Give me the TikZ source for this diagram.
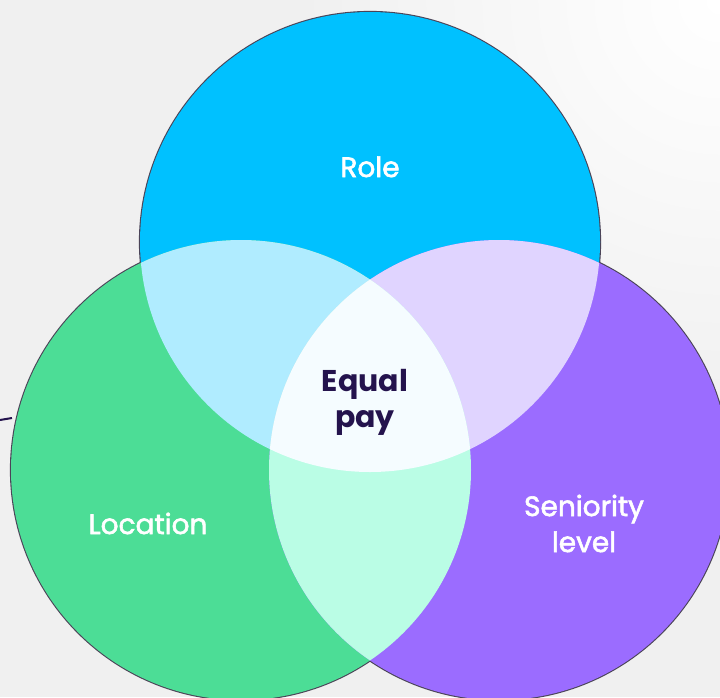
\documentclass[tikz,border=0pt]{standalone}
\usepackage{fontspec}
\setmainfont{Poppins}
\newfontfamily\medfont[FakeBold=2]{Poppins}
\begin{document}
\begin{tikzpicture}[x=1pt,y=-1pt]
\definecolor{bg}{HTML}{F0F0F0}
\definecolor{roleblue}{HTML}{00C1FF}
\definecolor{locgreen}{HTML}{4CDD96}
\definecolor{senpurple}{HTML}{9B6CFF}
\definecolor{bluegreen}{HTML}{B0ECFF}
\definecolor{bluepurple}{HTML}{E0D4FF}
\definecolor{greenpurple}{HTML}{BAFDE5}
\definecolor{centre}{HTML}{F5FCFF}
\definecolor{outline}{HTML}{4B4458}
\definecolor{navy}{HTML}{24134D}
\tikzset{
  rim/.style={draw=outline, line width=2.2pt},
  lbl/.style={text=white, font=\medfont\fontsize{28}{36}\selectfont, align=center, inner sep=0pt},
  mainlbl/.style={text=navy, font=\fontsize{30}{36}\selectfont\bfseries, align=center, inner sep=0pt}
}
\useasboundingbox (0,0) rectangle (720,697);
\fill[bg] (0,0) rectangle (720,697);
\shade[inner color=white, outer color=bg] (720,0) circle (420pt);
\coordinate (cT) at (370,242);
\coordinate (cL) at (241,470);
\coordinate (cR) at (499,470);
% outer outline
\draw[rim] (cT) circle (230pt);
\draw[rim] (cL) circle (230pt);
\draw[rim] (cR) circle (230pt);
% base fills
\fill[roleblue] (cT) circle (230pt);
\fill[locgreen] (cL) circle (230pt);
\fill[senpurple] (cR) circle (230pt);
% pairwise overlaps
\begin{scope}
  \clip (cT) circle (230pt);
  \fill[bluegreen] (cL) circle (230pt);
\end{scope}
\begin{scope}
  \clip (cT) circle (230pt);
  \fill[bluepurple] (cR) circle (230pt);
\end{scope}
\begin{scope}
  \clip (cL) circle (230pt);
  \fill[greenpurple] (cR) circle (230pt);
\end{scope}
\begin{scope}
  \clip (cT) circle (230pt);
  \clip (cL) circle (230pt);
  \fill[centre] (cR) circle (230pt);
\end{scope}
% stray connector end at left
\coordinate (stub) at (0,420);
\coordinate (stubend) at (12,418);
\draw[navy, line width=2pt] (stub) -- (stubend);
% labels
\node[lbl, anchor=base] (role) at (370,177) {Role};
\node[lbl, anchor=base] (loc) at (148,534) {Location};
\node[lbl] (sen) at (584,523.5) {Seniority\\level};
\node[mainlbl] (eq) at (365,402) {Equal\\pay};
\end{tikzpicture}
\end{document}
